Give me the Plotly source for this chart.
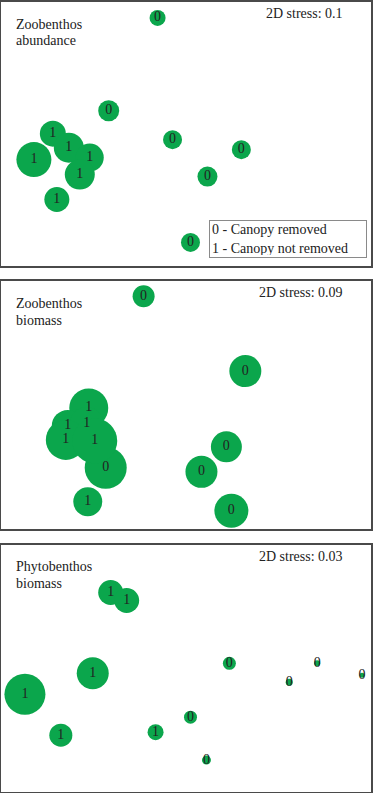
import plotly.graph_objects as go

# Panel definitions: NMDS ordination positions (panel-local units), bubble sizes, groups
panel_titles = [["Zoobenthos", "abundance"], ["Zoobenthos", "biomass"], ["Phytobenthos", "biomass"]]
stress_labels = ["2D stress: 0.1", "2D stress: 0.09", "2D stress: 0.03"]

# group 0 = canopy removed, group 1 = canopy not removed
p1_x0 = [157, 108, 172, 241, 207, 190]
p1_y0 = [249, 156, 127, 117, 90, 24]
p1_s0 = [16, 21, 19, 19, 20, 19]
p1_x1 = [52, 68, 33, 89, 79, 56]
p1_y1 = [133, 119, 107, 109, 92, 67]
p1_s1 = [26, 30, 35, 28, 30, 25]

p2_x0 = [143, 245, 105, 226, 201, 231]
p2_y0 = [233, 158, 61, 82, 57, 18]
p2_s0 = [22, 32, 42, 31, 32, 34]
p2_x1 = [88, 67, 86, 65, 94, 87]
p2_y1 = [121, 103, 105, 89, 88, 27]
p2_s1 = [39, 32, 34, 40, 45, 29]

p3_x0 = [229, 317, 289, 362, 190, 206]
p3_y0 = [129, 129, 110, 117, 75, 32]
p3_s0 = [13, 6, 7, 5, 13, 9]
p3_x1 = [110, 126, 92, 24, 60, 155]
p3_y1 = [200, 192, 119, 98, 57, 60]
p3_s1 = [25, 25, 32, 41, 23, 16]

legend_lines = ["0 - Canopy removed", "1 - Canopy not removed"]

W, H = 373, 793
panels_px = [(0, 265), (280, 528), (544, 792)]  # top, bottom in pixels
panel_w = 371

panels = [
    (p1_x0, p1_y0, p1_s0, p1_x1, p1_y1, p1_s1),
    (p2_x0, p2_y0, p2_s0, p2_x1, p2_y1, p2_s1),
    (p3_x0, p3_y0, p3_s0, p3_x1, p3_y1, p3_s1),
]

GREEN = "#0ba64c"
FONT = "Times New Roman, Liberation Serif, Times, serif"

fig = go.Figure()
annotations = []
for i, (x0, y0, s0, x1, y1, s1) in enumerate(panels):
    ax = "" if i == 0 else str(i + 1)
    xa, ya = "x" + ax, "y" + ax
    top, bot = panels_px[i]
    ph = bot - top
    for xs, ys, ss in [(x0, y0, s0), (x1, y1, s1)]:
        fig.add_trace(go.Scatter(x=xs, y=ys, mode="markers",
                                 marker=dict(size=ss, color=GREEN, opacity=1, line=dict(width=0)),
                                 xaxis=xa, yaxis=ya, showlegend=False, hoverinfo="skip"))
    for xs, ys, lab in [(x0, y0, "0"), (x1, y1, "1")]:
        fig.add_trace(go.Scatter(x=xs, y=ys, mode="text", text=[lab] * len(xs),
                                 textposition="middle center",
                                 textfont=dict(family=FONT, size=14, color="#222222"),
                                 xaxis=xa, yaxis=ya, showlegend=False, hoverinfo="skip"))
    axis_common = dict(showgrid=False, zeroline=False, showticklabels=False, ticks="",
                       showline=True, mirror=True, linecolor="#4a4a4a", linewidth=1.5)
    fig.update_layout(**{
        ("xaxis" + ax): dict(domain=[1 / W, 372 / W], range=[0, panel_w], anchor=ya, **axis_common),
        ("yaxis" + ax): dict(domain=[1 - bot / H, 1 - top / H], range=[0, ph], anchor=xa, **axis_common),
    })
    annotations.append(dict(x=13, y=ph - (23 if i == 0 else 22), xref=xa, yref=ya, text=panel_titles[i][0],
                            showarrow=False, xanchor="left", yanchor="middle",
                            font=dict(family=FONT, size=14, color="#222222")))
    annotations.append(dict(x=13, y=ph - 39, xref=xa, yref=ya, text=panel_titles[i][1],
                            showarrow=False, xanchor="left", yanchor="middle",
                            font=dict(family=FONT, size=14, color="#222222")))
    annotations.append(dict(x=345, y=ph - (12 if i != 1 else 11), xref=xa, yref=ya, text=stress_labels[i],
                            showarrow=False, xanchor="right", yanchor="middle",
                            font=dict(family=FONT, size=14, color="#222222")))

annotations.append(dict(x=209, y=265 - 219, xref="x", yref="y",
                        text="<br>".join(legend_lines), showarrow=False,
                        xanchor="left", yanchor="top", align="left", valign="middle",
                        width=152, height=32, borderpad=2, borderwidth=1, bordercolor="#8a8a8a",
                        bgcolor="white",
                        font=dict(family=FONT, size=14, color="#222222")))

fig.update_layout(width=W, height=H, margin=dict(l=0, r=0, t=0, b=0),
                  paper_bgcolor="white", plot_bgcolor="white", annotations=annotations)

fig.write_html("out.html")
